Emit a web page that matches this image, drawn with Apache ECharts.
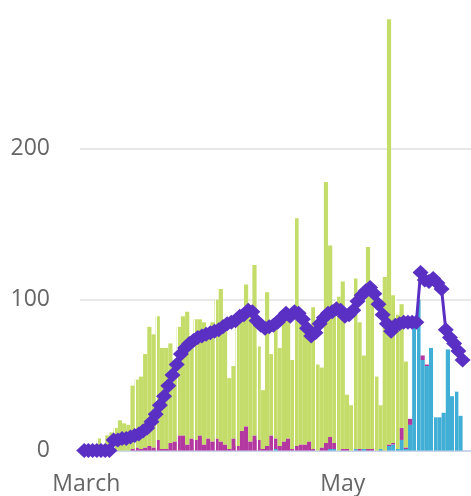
<!DOCTYPE html>
<html>
<head>
<meta charset="utf-8">
<title>chart</title>
<style>
  html, body { margin: 0; padding: 0; background: #fff; }
  #main { width: 471px; height: 496px; }
</style>
</head>
<body>
<div id="main"></div>
<script src="https://cdn.jsdelivr.net/npm/echarts@6/dist/echarts.min.js"></script>
<script>
// one bar per day, Feb 29 .. May 31
var firstDay = new Date(2020, 1, 29);
var days = [];
for (var i = 0; i < 93; i++) {
  var dt = new Date(firstDay.getTime() + i * 86400000);
  days.push(dt.getFullYear() + '-' + (dt.getMonth() + 1) + '-' + dt.getDate());
}
// day boundaries for the line (Feb 29 00:00 .. Jun 1 00:00)
var bounds = [];
for (var j = 0; j < 94; j++) bounds.push('b' + j);

var tickDays = ['2020-3-1', '2020-5-1'];
var tickLabels = ['March', 'May'];

var blueVals = [
  0,0,0,0,0,0,0,0,0,0,
  0,0,0,0,0,0,0,0,0,0,
  0,0,0,0,0,0,0,0,0,0,
  0,0,0,0,0,0,0,0,0,0,
  0,0,0,0,0,0,1,0,0,0,
  0,0,0,0,0,0,0,0,0,1,
  1,0,0,0,0,1,0,1,0,0,
  0,1,0,3,4,1,7,1,17,85,
  100,60,56,68,22,22,25,67,36,39,
  23,0,0
];
var magentaVals = [
  0,0,0,0,0,0,0,0,0,0,
  0,0,1,2,1,2,3,2,7,1,
  1,5,6,10,10,4,8,7,10,4,
  8,6,8,6,4,1,8,3,13,16,
  6,10,7,1,3,10,7,3,6,8,
  1,3,4,4,6,1,0,2,5,8,
  4,0,1,1,0,0,1,0,1,1,
  0,0,0,1,1,0,8,1,4,0,
  0,3,1,0,0,0,0,0,0,0,
  0,0,0
];
var greenVals = [
  0,1,0,0,8,3,10,12,15,20,
  18,17,42,45,48,62,79,75,82,67,
  67,66,54,72,79,88,67,80,77,81,
  72,79,92,101,83,47,48,83,80,94,
  89,113,62,39,102,54,77,65,82,82,
  59,151,81,76,72,94,57,53,173,127,
  86,102,111,36,30,113,84,62,134,107,
  49,29,115,282,98,89,82,57,0,0,
  0,0,0,0,0,0,0,0,0,0,
  0,0,0
];
// averaged line, one value per day from Mar 1 to May 30
var lineVals = [
  0,0,0,0,0,0,0,7,7,8,
  8,9,10,11,13,15,19,24,30,36,
  43,50,57,64,68,71,73,75,76,77,
  78,79,80,82,84,85,86,89,90,93,
  92,86,83,81,82,83,85,88,91,89,
  92,91,87,81,76,78,84,88,91,92,
  94,93,89,90,93,99,103,106,108,104,
  97,90,84,79,83,84,85,85,85,85,
  118,113,112,114,111,107,80,75,71,66,60
];
var lineData = [null].concat(lineVals);
while (lineData.length < bounds.length) lineData.push(null);

// boundaries where the bars show a thin white seam
var seams = [4, 8, 13, 18, 23, 27, 32, 37, 42, 46, 51, 56, 61, 65, 70, 75, 80, 84, 89];
var seamData = seams.map(function (b) {
  var left = blueVals[b - 1] + magentaVals[b - 1] + greenVals[b - 1];
  var right = blueVals[b] + magentaVals[b] + greenVals[b];
  return [b, Math.max(left, right)];
});

var myChart = echarts.init(document.getElementById('main'));

var option = {
  animation: false,
  grid: { left: 80, right: 0, top: 0, bottom: 45.5 },
  xAxis: [{
    type: 'category',
    data: days,
    boundaryGap: true,
    axisTick: { show: false },
    axisLine: { lineStyle: { color: '#ccd6eb', width: 2 } },
    axisLabel: {
      interval: function (idx, val) { return tickDays.indexOf(val) >= 0; },
      formatter: function (val) { return tickLabels[tickDays.indexOf(val)] || ''; },
      color: '#666666',
      fontSize: 23,
      fontFamily: 'Open Sans',
      margin: 22
    },
    splitLine: { show: false }
  }, {
    type: 'category',
    data: bounds,
    boundaryGap: false,
    show: false
  }],
  yAxis: {
    type: 'value',
    min: 0,
    max: 298.7,
    interval: 100,
    axisLine: { show: false },
    axisTick: { show: false },
    axisLabel: {
      showMaxLabel: false,
      formatter: function (v) { return v % 100 === 0 ? String(v) : ''; },
      color: '#666666',
      fontSize: 23,
      fontFamily: 'Open Sans',
      margin: 30
    },
    splitLine: { showMaxLine: false, lineStyle: { color: '#e8e8e8', width: 2 } }
  },
  series: [{
    name: 'blue',
    type: 'bar',
    stack: 'day',
    data: blueVals,
    barCategoryGap: '0%',
    itemStyle: { color: '#40aed5' }
  }, {
    name: 'magenta',
    type: 'bar',
    stack: 'day',
    data: magentaVals,
    itemStyle: { color: '#b3389f' }
  }, {
    name: 'green',
    type: 'bar',
    stack: 'day',
    data: greenVals,
    itemStyle: { color: '#c4dd6a' }
  }, {
    name: 'seams',
    type: 'custom',
    xAxisIndex: 1,
    z: 3,
    silent: true,
    data: seamData,
    renderItem: function (params, api) {
      var p0 = api.coord([api.value(0), 0]);
      var p1 = api.coord([api.value(0), api.value(1)]);
      var x = Math.round(p0[0]) + 0.5;
      return {
        type: 'line',
        shape: { x1: x, y1: p0[1], x2: x, y2: p1[1] },
        style: { stroke: '#ffffff', lineWidth: 1 }
      };
    }
  }, {
    name: 'average',
    type: 'line',
    xAxisIndex: 1,
    data: lineData,
    z: 5,
    symbol: 'diamond',
    symbolSize: [16, 15],
    showAllSymbol: true,
    lineStyle: { color: '#5a2fc3', width: 3 },
    itemStyle: { color: '#5a2fc3' }
  }]
};
myChart.setOption(option);
</script>
</body>
</html>
